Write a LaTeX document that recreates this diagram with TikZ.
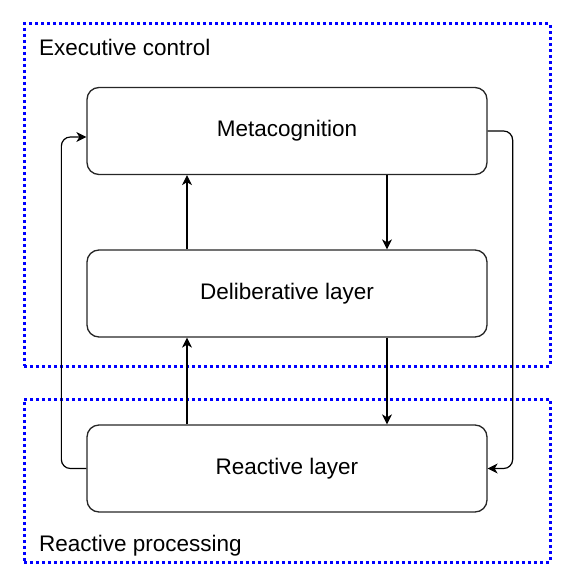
\documentclass[tikz,border=0pt]{standalone}
\usepackage{fontspec}
\setmainfont{Liberation Sans}
\usetikzlibrary{arrows.meta,positioning,calc}
\tikzset{
  grp/.style={draw=blue,line width=3pt,dash pattern=on 3pt off 3pt,
              minimum width=526pt,inner sep=0pt},
  blk/.style={draw=black!85,line width=1.3pt,rounded corners=12pt,
              minimum width=400pt,minimum height=87pt,font=\fontsize{22.5}{26}\selectfont},
  lbl/.style={anchor=west,font=\fontsize{22.5}{26}\selectfont,inner sep=0pt},
  arr/.style={-{Stealth[length=10pt,width=10pt,inset=3pt]},line width=1.2pt},
}
\begin{document}
\begin{tikzpicture}[x=1pt,y=-1pt]
  \useasboundingbox (0,0) rectangle (576,586);
  %% Groups
  \node[grp,minimum height=342pt] (exec)  at (287,195)   {};
  \node[grp,minimum height=163pt] (reactg) at (287,480.5) {};
  \node[lbl] (execlbl)  at (39,47)  {Executive control};
  \node[lbl] (reactlbl) at (39,546) {Reactive processing};
  %% Layers
  \node[blk] (meta)  at (287,131)   {Metacognition};
  \node[blk] (delib) at (287,293.5) {Deliberative layer};
  \node[blk] (react) at (287,468.5) {Reactive layer};

  %% Edges
  \draw[arr]([xshift=-100pt]delib.north) -- ([xshift=-100pt]meta.south);
  \draw[arr]([xshift=100pt]meta.south) -- ([xshift=100pt]delib.north);
  \draw[arr]([xshift=-100pt]react.north) -- ([xshift=-100pt]delib.south);
  \draw[arr]([xshift=100pt]delib.south) -- ([xshift=100pt]react.north);
  \draw[arr,rounded corners=9pt](react.west) -- ++(-25,0) |- ([yshift=-6pt]meta.west);
  \draw[arr,rounded corners=9pt](meta.east) -- ++(25,0) |- (react.east);
\end{tikzpicture}
\end{document}
